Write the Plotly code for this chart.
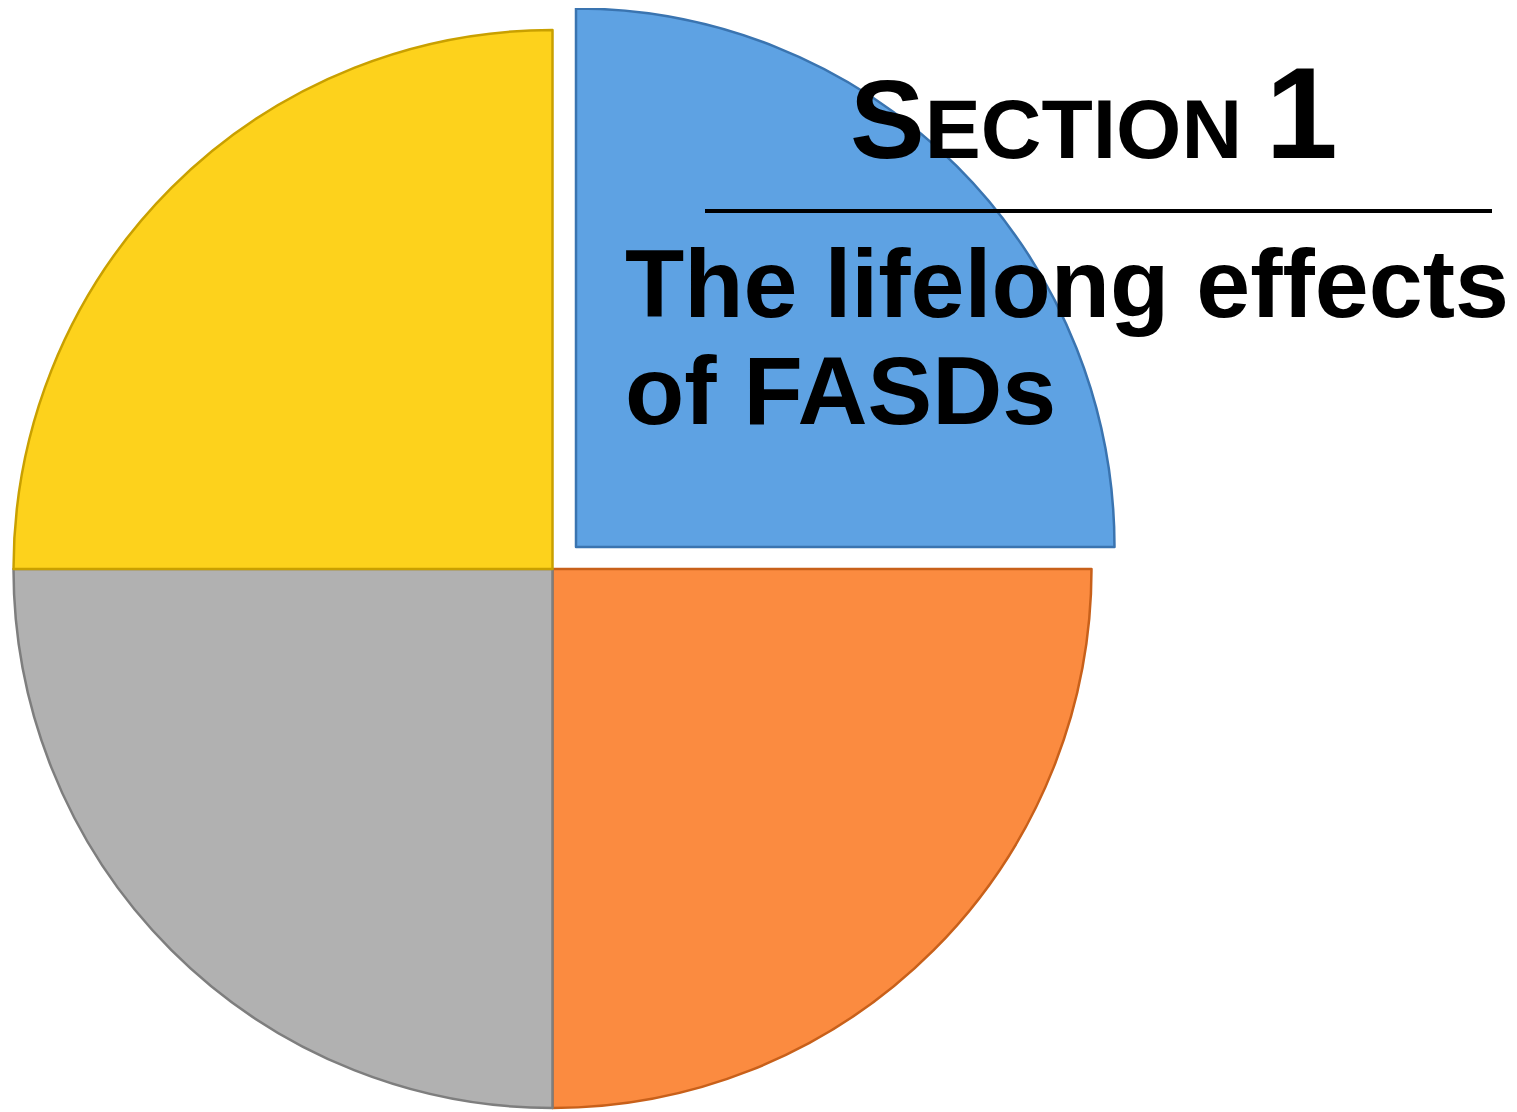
import plotly.graph_objects as go

# Data
labels = ["Section 1", "Section 2", "Section 3", "Section 4"]
values = [1, 1, 1, 1]
colors = ["#5EA2E3", "#FB8B40", "#B1B1B1", "#FDD21C"]
edge_colors = ["#3A74B0", "#C8601A", "#7E7E7E", "#C9A000"]
title_big = "S"
title_small = "ECTION"
title_num = "1"
subtitle_lines = ["The lifelong effects", "of FASDs"]

W, H = 1517, 1112
OFF = 8  # page body margin
T = "rgba(0,0,0,0)"

def fx(px):
    return (px - OFF) / W

def fy(py):
    return 1 - (py - OFF) / H

def clamp(v):
    return min(1.0, max(0.0, v))

def px_domain(cx, cy, r):
    return dict(x=[clamp(fx(cx - r)), clamp(fx(cx + r))],
                y=[clamp(fy(cy + r)), clamp(fy(cy - r))])

fig = go.Figure()

# Main pie (section 1 slot left empty; it is drawn pulled out below)
fig.add_trace(go.Pie(
    labels=labels, values=values, sort=False, direction="clockwise", rotation=0,
    marker=dict(colors=[T] + colors[1:], line=dict(color=[T] + edge_colors[1:], width=2.5)),
    textinfo="none", hoverinfo="label", showlegend=False,
    domain=px_domain(552.5, 569, 539),
))

# Pulled-out first slice
fig.add_trace(go.Pie(
    labels=labels, values=values, sort=False, direction="clockwise", rotation=0,
    marker=dict(colors=[colors[0], T, T, T], line=dict(color=[edge_colors[0], T, T, T], width=2.5)),
    textinfo="none", hoverinfo="label", showlegend=False,
    domain=px_domain(576, 547, 538.5),
))

font = "Liberation Sans, Arial, sans-serif"
fig.add_annotation(
    x=fx(848), y=fy(188), xref="paper", yref="paper", xanchor="left", yanchor="bottom",
    text=(f"<b><span style='font-size:112px'>{title_big}</span>"
          f"<span style='font-size:84px'>{title_small} </span>"
          f"<span style='font-size:130px'>{title_num}</span></b>"),
    showarrow=False, font=dict(family=font, size=84, color="black"),
)
fig.add_annotation(
    x=fx(623), y=fy(340), xref="paper", yref="paper", xanchor="left", yanchor="bottom",
    text=f"<b>{subtitle_lines[0]}</b>", showarrow=False,
    font=dict(family=font, size=97, color="black"),
)
fig.add_annotation(
    x=fx(623), y=fy(447), xref="paper", yref="paper", xanchor="left", yanchor="bottom",
    text=f"<b>{subtitle_lines[1]}</b>", showarrow=False,
    font=dict(family=font, size=97, color="black"),
)
fig.add_shape(type="line", xref="paper", yref="paper",
              x0=fx(705), x1=fx(1492), y0=fy(211), y1=fy(211),
              line=dict(color="black", width=4))

fig.update_layout(width=W, height=H, margin=dict(l=0, r=0, t=0, b=0),
                  paper_bgcolor="white", plot_bgcolor="white")
fig.write_html("out.html")
